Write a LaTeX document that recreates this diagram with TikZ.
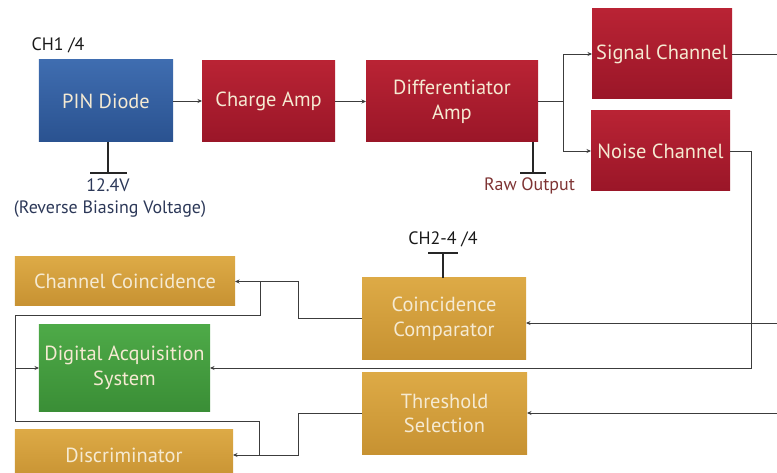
\documentclass[tikz,border=0pt]{standalone}
\usepackage{fontspec}
\setmainfont{PT Sans}
\usetikzlibrary{arrows.meta}
\definecolor{redtop}{HTML}{B92334}
\definecolor{redbot}{HTML}{9A1628}
\definecolor{bluetop}{HTML}{3F6DB0}
\definecolor{bluebot}{HTML}{2A5290}
\definecolor{greentop}{HTML}{4EAA48}
\definecolor{greenbot}{HTML}{3A8E36}
\definecolor{goldtop}{HTML}{DDAA46}
\definecolor{goldbot}{HTML}{C79232}
\definecolor{boxtext}{HTML}{F5EAD2}
\definecolor{wirec}{HTML}{3C3C3C}
\definecolor{navylab}{HTML}{2C3858}
\definecolor{rawlab}{HTML}{7E3434}
\begin{document}
\begin{tikzpicture}[x=1bp,y=-1bp,
  blk/.style={inner sep=0pt, outer sep=0pt, align=center, text=boxtext,
              font=\fontsize{20.5}{25}\selectfont},
  redblk/.style={blk, top color=redtop, bottom color=redbot},
  blueblk/.style={blk, top color=bluetop, bottom color=bluebot},
  greenblk/.style={blk, top color=greentop, bottom color=greenbot},
  goldblk/.style={blk, top color=goldtop, bottom color=goldbot},
  wire/.style={draw=wirec, line width=0.9bp},
  arr/.style={wire, -{Stealth[length=4.5bp,width=4bp]}},
  stub/.style={draw=black!85, line width=1.8bp},
  lab/.style={inner sep=0pt, font=\fontsize{18}{20}\selectfont},
]
\useasboundingbox (0,0) rectangle (777,473);

% blocks
\node[blueblk, minimum width=134bp, minimum height=82bp] (pin) at (106,101) {PIN Diode};
\node[redblk, minimum width=133bp, minimum height=81bp] (charge) at (268.5,101.5) {Charge Amp};
\node[redblk, minimum width=172bp, minimum height=81bp] (diff) at (452,101.5) {Differentiator\\Amp};
\node[redblk, minimum width=140bp, minimum height=90bp] (signal) at (662,54) {Signal Channel};
\node[redblk, minimum width=139bp, minimum height=80bp] (noise) at (660.5,151) {Noise Channel};
\node[goldblk, minimum width=220bp, minimum height=49bp] (chco) at (125,281.5) {Channel Coincidence};
\node[greenblk, minimum width=171bp, minimum height=87bp] (das) at (124.5,368) {Digital Acquisition\\System};
\node[goldblk, minimum width=218bp, minimum height=52bp] (disc) at (124,455) {Discriminator};
\node[goldblk, minimum width=164bp, minimum height=81bp] (cmp) at (444,318.5) {Coincidence\\Comparator};
\node[goldblk, minimum width=165bp, minimum height=81bp] (thr) at (444.5,413.5) {Threshold\\Selection};

% labels
\node[lab, text=black!90] (ch1) at (58,45) {CH1 /4};
\node[lab, text=navylab] (volt) at (108,185) {12.4V};
\node[lab, text=navylab] (rbv) at (110,209) {(Reverse Biasing Voltage)};
\node[lab, text=rawlab] (raw) at (529.5,186) {Raw Output};
\node[lab, text=black!90] (ch2) at (443,239) {CH2-4 /4};

% stubs
\coordinate (pinbar) at (108,173);
\draw[stub] (pin.south -| pinbar) -- (pinbar);
\draw[stub] ([xshift=-18bp]pinbar) -- ([xshift=19bp]pinbar);
\coordinate (diffbar) at (533,173);
\draw[stub] (diff.south -| diffbar) -- (diffbar);
\draw[stub] ([xshift=-13bp]diffbar) -- ([xshift=13bp]diffbar);
\coordinate (cmpbar) at (443,253);
\draw[stub] (cmp.north -| cmpbar) -- (cmpbar);
\draw[stub] ([xshift=-15bp]cmpbar) -- ([xshift=15bp]cmpbar);

% main chain
\draw[arr] (pin.east) -- (charge.west |- pin.east);
\draw[arr] (charge.east) -- (diff.west |- charge.east);
\coordinate (sp) at (563,101.5);
\draw[wire] (diff.east) -- (sp);
\draw[arr] (sp) |- (signal.west);
\draw[arr] (sp) |- (noise.west);
\coordinate (sigout) at (777,54);
\draw[wire] (signal.east) -- (sigout);

% noise to DAS
\coordinate (nr) at (751,0);
\draw[arr] (noise.east) -| (nr |- das.east) -- (das.east);

% external inputs
\coordinate (cmpin) at (777,323);
\draw[arr] (cmpin) -- (cmp.east |- cmpin);
\coordinate (thrin) at (777,413);
\draw[arr] (thrin) -- (thr.east |- thrin);

% comparator / threshold to left blocks
\coordinate (cx) at (298,0);
\draw[arr] (cmp.west) -| (cx |- chco.east) -- (chco.east);
\draw[arr] (thr.west) -| (cx |- disc.east) -- (disc.east);

% loop feeding DAS
\coordinate (j1) at (260,281.5);
\coordinate (j2) at (259,455);
\coordinate (lt) at (15,315);
\coordinate (lb) at (15,421);
\draw[wire] (j1) |- (lt) -- (lb) -| (j2);
\coordinate (lm) at (15,368);
\draw[arr] (lm) -- (das.west);
\end{tikzpicture}
\end{document}
